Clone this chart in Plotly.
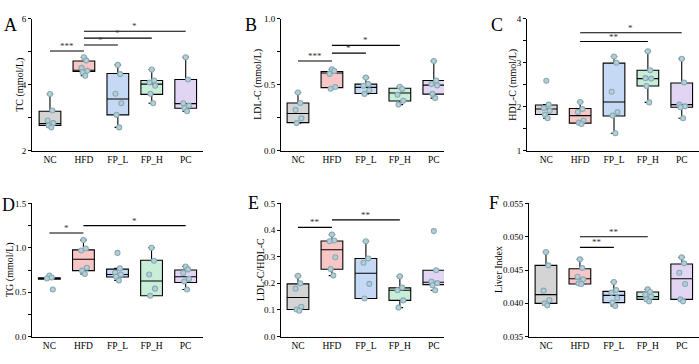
import plotly.graph_objects as go

W, H = 699, 364
GROUPS = ["NC", "HFD", "FP_L", "FP_H", "PC"]
FILLS = ["#d4d4d4", "#f8c6c6", "#c6d9f4", "#c9eed8", "#e2d4f3"]

# ---------- data ----------
# Panel A: TC (mmol/L)
A_pts = [[3.72, 3.22, 2.92, 2.84, 2.77, 2.71],
         [4.83, 4.73, 4.51, 4.42, 4.38, 4.27],
         [4.60, 4.32, 3.73, 3.44, 3.09, 2.71],
         [4.46, 4.13, 4.07, 3.97, 3.73, 3.44],
         [4.83, 4.16, 3.44, 3.37, 3.29, 3.20]]
A_q1 = [2.77, 4.40, 3.09, 3.71, 3.29]
A_med = [2.83, 4.44, 3.57, 4.02, 3.43]
A_q3 = [3.20, 4.72, 4.34, 4.13, 4.16]
A_lo = [2.71, 4.27, 2.71, 3.44, 3.20]
A_hi = [3.72, 4.83, 4.60, 4.46, 4.83]
A_sig = [(0, 1, 5.02, "***"), (1, 2, 5.20, "*"), (1, 3, 5.41, "*"), (1, 4, 5.62, "*")]

# Panel B: LDL-C (mmol/L)
B_pts = [[0.441, 0.362, 0.31, 0.246, 0.21],
         [0.616, 0.604, 0.582, 0.483, 0.47],
         [0.554, 0.505, 0.493, 0.458, 0.431],
         [0.485, 0.468, 0.424, 0.379, 0.35],
         [0.68, 0.532, 0.505, 0.495, 0.431, 0.399]]
B_q1 = [0.214, 0.478, 0.434, 0.377, 0.429]
B_med = [0.283, 0.589, 0.480, 0.438, 0.497]
B_q3 = [0.362, 0.600, 0.505, 0.473, 0.532]
B_lo = [0.21, 0.47, 0.431, 0.35, 0.399]
B_hi = [0.441, 0.616, 0.554, 0.485, 0.68]
B_sig = [(0, 1, 0.68, "***"), (1, 2, 0.739, "*"), (1, 3, 0.798, "*")]

# Panel C: HDL-C (mmol/L)
C_pts = [[2.59, 2.05, 1.97, 1.91, 1.82, 1.74],
         [2.11, 1.95, 1.88, 1.69, 1.64, 1.61],
         [3.14, 3.00, 2.34, 1.88, 1.80, 1.40],
         [3.26, 2.83, 2.65, 2.64, 2.47, 2.10],
         [3.09, 2.55, 2.05, 2.01, 1.99, 1.74]]
C_q1 = [1.826, 1.63, 1.79, 2.47, 1.99]
C_med = [1.95, 1.80, 2.11, 2.64, 2.05]
C_q3 = [2.04, 1.96, 2.99, 2.83, 2.54]
C_lo = [1.74, 1.61, 1.40, 2.10, 1.74]
C_hi = [2.05, 2.11, 3.14, 3.26, 3.09]
C_sig = [(1, 3, 3.48, "**"), (1, 4, 3.68, "*")]

# Panel D: TG (mmol/L)
D_pts = [[0.688, 0.666, 0.655, 0.53],
         [1.087, 0.992, 0.97, 0.776, 0.743, 0.706],
         [0.943, 0.768, 0.72, 0.70, 0.675, 0.633],
         [1.0, 0.855, 0.70, 0.54, 0.46],
         [0.79, 0.757, 0.717, 0.65, 0.62, 0.53]]
D_q1 = [0.648, 0.743, 0.672, 0.46, 0.61]
D_med = [0.655, 0.871, 0.70, 0.626, 0.675]
D_q3 = [0.662, 0.977, 0.76, 0.86, 0.75]
D_lo = [0.648, 0.706, 0.633, 0.46, 0.53]
D_hi = [0.662, 1.087, 0.768, 1.0, 0.79]
D_sig = [(0, 1, 1.167, "*"), (1, 4, 1.25, "*")]

# Panel E: LDL-C/HDL-C
E_pts = [[0.228, 0.2, 0.18, 0.112, 0.102, 0.097],
         [0.383, 0.361, 0.358, 0.298, 0.254, 0.229],
         [0.358, 0.293, 0.277, 0.198, 0.143],
         [0.226, 0.184, 0.174, 0.136, 0.109],
         [0.396, 0.249, 0.207, 0.201, 0.193, 0.174]]
E_q1 = [0.102, 0.253, 0.143, 0.136, 0.195]
E_med = [0.147, 0.326, 0.238, 0.174, 0.204]
E_q3 = [0.198, 0.359, 0.293, 0.183, 0.249]
E_lo = [0.097, 0.229, 0.143, 0.109, 0.174]
E_hi = [0.228, 0.383, 0.358, 0.226, 0.249]
E_sig = [(0, 1, 0.41, "**"), (1, 3, 0.438, "**")]

# Panel F: Liver Index
F_pts = [[0.0477, 0.0457, 0.0419, 0.0405, 0.0400, 0.0397],
         [0.0466, 0.0453, 0.0440, 0.0436, 0.0430, 0.0429],
         [0.0432, 0.0420, 0.0416, 0.0408, 0.0401, 0.0396],
         [0.0421, 0.0417, 0.0413, 0.0410, 0.0406, 0.0403],
         [0.0469, 0.0460, 0.0446, 0.0429, 0.0406, 0.0403]]
F_q1 = [0.0400, 0.0429, 0.0401, 0.0406, 0.0406]
F_med = [0.0413, 0.0437, 0.0412, 0.0410, 0.0437]
F_q3 = [0.0457, 0.0452, 0.0418, 0.0417, 0.0459]
F_lo = [0.0397, 0.0429, 0.0396, 0.0403, 0.0403]
F_hi = [0.0477, 0.0466, 0.0432, 0.0421, 0.0469]
F_sig = [(1, 2, 0.0484, "**"), (1, 3, 0.0500, "**")]

# ---------- layout (pixels) ----------
JITTER = [0.0, 0.07, -0.07, 0.1, -0.04, 0.04]
PANELS = [
    dict(L="A", T="TC (mmol/L)", D=(A_pts, A_q1, A_med, A_q3, A_lo, A_hi, A_sig),
         xd=(32, 203), yd=(14, 150), xr=(-0.53, 4.51), yr=(2, 6), dt=2, mn=1, fmt="d", lp=(2, 21), tx=20),
    dict(L="B", T="LDL-C (mmol/L)", D=(B_pts, B_q1, B_med, B_q3, B_lo, B_hi, B_sig),
         xd=(281, 444), yd=(14, 150), xr=(-0.5, 4.3), yr=(0, 1), dt=0.5, mn=0.25, fmt=".1f", lp=(243, 21), tx=258),
    dict(L="C", T="HDL-C (mmol/L)", D=(C_pts, C_q1, C_med, C_q3, C_lo, C_hi, C_sig),
         xd=(527, 699), yd=(14, 150), xr=(-0.57, 4.51), yr=(1, 4), dt=1, mn=0.5, fmt="d", lp=(489, 21), tx=513),
    dict(L="D", T="TG (mmol/L)", D=(D_pts, D_q1, D_med, D_q3, D_lo, D_hi, D_sig),
         xd=(32, 203), yd=(204, 341), xr=(-0.51, 4.51), yr=(0, 1.5), dt=0.5, mn=0.25, fmt=".1f", lp=(0, 206), tx=10),
    dict(L="E", T="LDL-C/HDL-C", D=(E_pts, E_q1, E_med, E_q3, E_lo, E_hi, E_sig),
         xd=(281, 444), yd=(204, 341), xr=(-0.5, 4.3), yr=(0, 0.5), dt=0.1, mn=None, fmt=".1f", lp=(246, 204), tx=260),
    dict(L="F", T="Liver Index", D=(F_pts, F_q1, F_med, F_q3, F_lo, F_hi, F_sig),
         xd=(529, 699), yd=(204, 341), xr=(-0.5, 4.51), yr=(0.035, 0.055), dt=0.005, mn=None, fmt=".3f", lp=(487, 204), tx=498),
]

FONT = "Liberation Serif"
fig = go.Figure()
annotations = []
layout = {}

for k, p in enumerate(PANELS):
    sfx = "" if k == 0 else str(k + 1)
    xa, ya = "x" + sfx, "y" + sfx
    pts, q1, med, q3, lo, hi, sig = p["D"]
    for i, g in enumerate(GROUPS):
        fig.add_trace(go.Box(
            x=[i], q1=[q1[i]], median=[med[i]], q3=[q3[i]],
            lowerfence=[lo[i]], upperfence=[hi[i]],
            width=0.64, whiskerwidth=0.3, fillcolor=FILLS[i],
            line=dict(color="black", width=1.1), boxpoints=False,
            showlegend=False, hoverinfo="skip", xaxis=xa, yaxis=ya))
    for i, g in enumerate(GROUPS):
        ys = pts[i]
        xs = [i + JITTER[j % len(JITTER)] for j in range(len(ys))]
        fig.add_trace(go.Scatter(
            x=xs, y=ys, mode="markers",
            marker=dict(size=5, color="#b6ced5", line=dict(color="#86abb7", width=1.1)),
            showlegend=False, hoverinfo="skip", xaxis=xa, yaxis=ya))
    for (a, b, yv, lab) in sig:
        fig.add_trace(go.Scatter(
            x=[a, b], y=[yv, yv], mode="lines", line=dict(color="black", width=1.1),
            showlegend=False, hoverinfo="skip", xaxis=xa, yaxis=ya))
        annotations.append(dict(x=(a + b) / 2, y=yv, xref=xa, yref=ya, text=lab,
                                showarrow=False, yanchor="bottom", yshift=-2,
                                font=dict(family=FONT, size=9, color="#333")))
    x0, x1 = p["xd"]
    t, b_ = p["yd"]
    xkey = "xaxis" + sfx
    ykey = "yaxis" + sfx
    layout[xkey] = dict(domain=[x0 / W, x1 / W], range=list(p["xr"]), anchor=ya,
                        tickmode="array", tickvals=list(range(5)), ticktext=GROUPS,
                        showline=True, linecolor="black", linewidth=1, ticks="",
                        showgrid=False, zeroline=False,
                        tickfont=dict(family=FONT, size=9.5, color="black"))
    yax = dict(domain=[1 - b_ / H, 1 - t / H], range=list(p["yr"]), anchor=xa,
               dtick=p["dt"], tick0=p["yr"][0], tickformat=p["fmt"],
               showline=True, linecolor="black", linewidth=1,
               ticks="outside", ticklen=3, tickwidth=1, tickcolor="black",
               showgrid=False, zeroline=False,
               tickfont=dict(family=FONT, size=9, color="black"))
    if p["mn"]:
        yax["minor"] = dict(dtick=p["mn"], tick0=p["yr"][0], ticks="outside",
                            ticklen=3, tickcolor="black", tickwidth=1)
    layout[ykey] = yax
    annotations.append(dict(x=p["tx"] / W, y=1 - (t + b_) / 2 / H, xref="paper", yref="paper",
                            text=p["T"], textangle=-90, showarrow=False,
                            xanchor="center", yanchor="middle",
                            font=dict(family=FONT, size=10, color="black")))
    annotations.append(dict(x=p["lp"][0] / W, y=1 - p["lp"][1] / H, xref="paper", yref="paper",
                            text=p["L"], showarrow=False, xanchor="left", yanchor="middle",
                            font=dict(family=FONT, size=18, color="black")))

fig.update_layout(width=W, height=H, margin=dict(l=0, r=0, t=0, b=0),
                  plot_bgcolor="white", paper_bgcolor="white", boxmode="overlay",
                  annotations=annotations, **layout)
fig.write_html("out.html", config={"displayModeBar": False},
               post_script="document.body.style.margin='0';document.body.style.overflow='hidden';")
